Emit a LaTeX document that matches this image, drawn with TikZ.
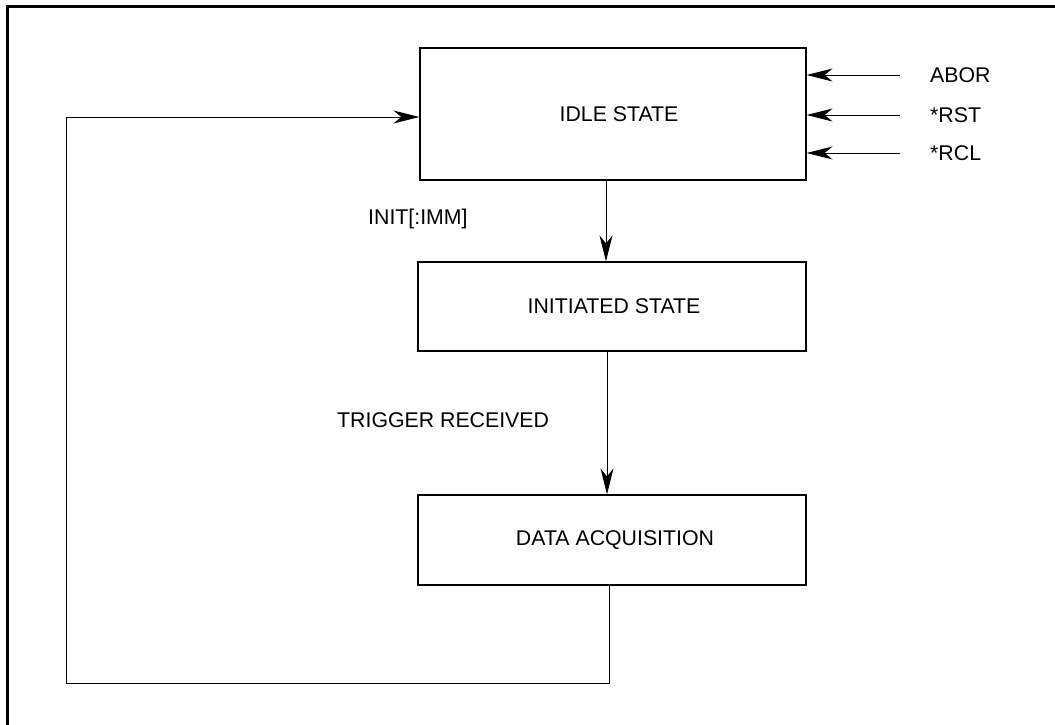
\documentclass[tikz,border=0pt]{standalone}
\usepackage{fontspec}
\setmainfont{Liberation Sans}
\usetikzlibrary{arrows.meta}
\begin{document}
\begin{tikzpicture}[x=1pt,y=-1pt,
  statebox/.style={draw, line width=1.2pt, rectangle, inner sep=0pt, font=\fontsize{21.3}{25}\selectfont},
  lbl/.style={font=\fontsize{21.3}{25}\selectfont, inner sep=0pt},
  arr/.style={line width=1pt, -{Stealth[length=26pt, width=13pt, inset=8pt]}},
  wire/.style={line width=1pt}]
\useasboundingbox (0,0) rectangle (1055,724);
\draw[line width=3pt] (7,740) -- (7,6) -- (1070,6);
\node[statebox, minimum width=386pt, minimum height=132pt] (idle) at (613,114) {\hspace*{12pt}IDLE STATE};
\node[statebox, minimum width=388pt, minimum height=89pt] (init) at (612,306.5) {\hspace*{4pt}INITIATED STATE};
\node[statebox, minimum width=388pt, minimum height=90pt] (data) at (612,540) {\hspace*{6pt}DATA ACQUISITION};
% right inputs
\coordinate (a1) at (900,75);
\coordinate (a2) at (900,115);
\coordinate (a3) at (900,153);
\node[lbl, anchor=west] (abor) at (930,75) {ABOR};
\node[lbl, anchor=west] (rst) at (930,115) {*RST};
\node[lbl, anchor=west] (rcl) at (930,153) {*RCL};
\draw[arr] (a1) -- (idle.east |- a1);
\draw[arr] (a2) -- (idle.east |- a2);
\draw[arr] (a3) -- (idle.east |- a3);
% vertical arrows
\draw[arr] ([xshift=-7pt]idle.south) -- ([xshift=-6pt]init.north);
\draw[arr] ([xshift=-5pt]init.south) -- ([xshift=-5pt]data.north);
\node[lbl, anchor=west] (l1) at (368,219) {INIT[:IMM]};
\node[lbl, anchor=west] (l2) at (337,420) {TRIGGER RECEIVED};
% feedback
\coordinate (c1) at (66,683);
\coordinate (c2) at (66,117);
\draw[wire] ([xshift=-3pt]data.south) |- (c1) -- (c2);
\draw[arr] (c2) -- (idle.west |- c2);
\end{tikzpicture}
\end{document}
